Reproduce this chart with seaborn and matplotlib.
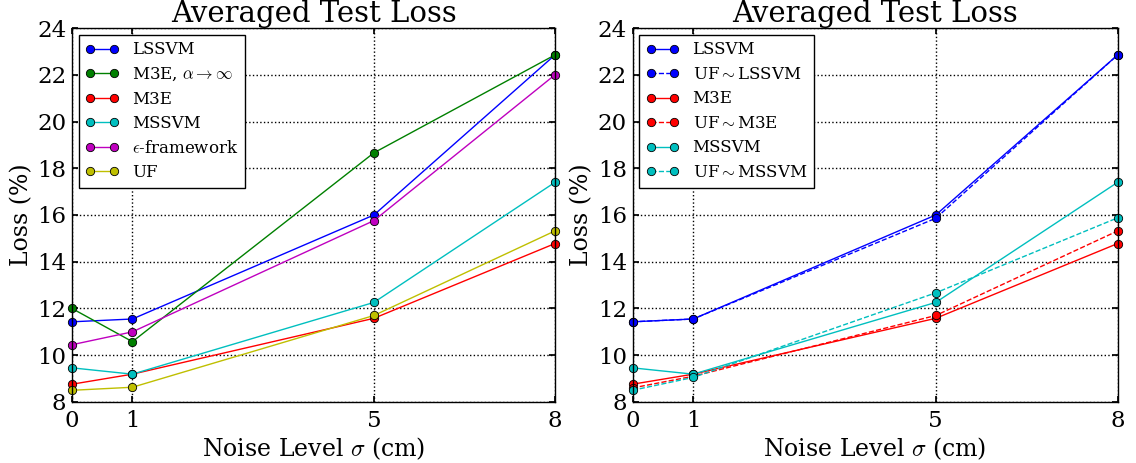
import matplotlib
matplotlib.use("Agg")
import matplotlib.pyplot as plt
import seaborn as sns
import pandas as pd

# Noise levels (cm)
sigma = [0, 1, 5, 8]
x_ticks = [0, 1, 5, 8]
y_ticks = [8, 10, 12, 14, 16, 18, 20, 22, 24]

# Left panel: averaged test loss (%) per method
lssvm = [11.43, 11.55, 16.0, 22.85]
m3e_inf = [12.0, 10.58, 18.66, 22.85]
m3e = [8.76, 9.19, 11.58, 14.78]
mssvm = [9.46, 9.19, 12.26, 17.4]
eps_fw = [10.45, 11.0, 15.76, 22.0]
uf = [8.5, 8.63, 11.7, 15.32]

# Right panel: UF built on top of each base method
uf_lssvm = [11.43, 11.55, 15.86, 22.85]
uf_m3e = [8.6, 9.1, 11.7, 15.32]
uf_mssvm = [8.5, 9.05, 12.67, 15.88]

C_B = (0.0, 0.0, 1.0)
C_G = (0.0, 0.5, 0.0)
C_R = (1.0, 0.0, 0.0)
C_C = (0.0, 0.75, 0.75)
C_M = (0.75, 0.0, 0.75)
C_Y = (0.75, 0.75, 0.0)

sns.set_theme(style="white")
plt.rcParams.update({
    "font.family": ["DejaVu Serif"],
    "mathtext.fontset": "cm",
    "axes.edgecolor": "black",
    "axes.linewidth": 1.0,
    "xtick.direction": "in",
    "ytick.direction": "in",
    "xtick.top": True,
    "ytick.right": True,
    "xtick.bottom": True,
    "ytick.left": True,
    "xtick.major.size": 4,
    "ytick.major.size": 4,
    "xtick.color": "black",
    "ytick.color": "black",
    "text.color": "black",
    "axes.labelcolor": "black",
})

fig = plt.figure(figsize=(11.36, 4.63), dpi=100)
ax1 = fig.add_axes([0.0634, 0.1318, 0.4252, 0.8077])
ax2 = fig.add_axes([0.5568, 0.1318, 0.4271, 0.8077])

left_series = [
    (lssvm, C_B, "LSSVM"),
    (m3e_inf, C_G, r"M3E, $\alpha \rightarrow \infty$"),
    (m3e, C_R, "M3E"),
    (mssvm, C_C, "MSSVM"),
    (eps_fw, C_M, r"$\epsilon$-framework"),
    (uf, C_Y, "UF"),
]
right_series = [
    (lssvm, C_B, "-", "LSSVM"),
    (uf_lssvm, C_B, "--", r"UF$\sim$LSSVM"),
    (m3e, C_R, "-", "M3E"),
    (uf_m3e, C_R, "--", r"UF$\sim$M3E"),
    (mssvm, C_C, "-", "MSSVM"),
    (uf_mssvm, C_C, "--", r"UF$\sim$MSSVM"),
]

line_kw = dict(marker="o", markersize=6, markeredgecolor="black",
               markeredgewidth=0.6, linewidth=1.0, clip_on=False)

for vals, col, lab in left_series:
    df = pd.DataFrame({"sigma": sigma, "loss": vals})
    sns.lineplot(data=df, x="sigma", y="loss", color=col, label=lab,
                 ax=ax1, **line_kw)

for vals, col, ls, lab in right_series:
    df = pd.DataFrame({"sigma": sigma, "loss": vals})
    sns.lineplot(data=df, x="sigma", y="loss", color=col, linestyle=ls,
                 label=lab, ax=ax2, **line_kw)

for ax in (ax1, ax2):
    ax.set_xlim(0, 8)
    ax.set_ylim(8, 24)
    ax.set_xticks(x_ticks)
    ax.set_yticks(y_ticks)
    ax.tick_params(labelsize=16.5, pad=6)
    ax.tick_params(axis="y", pad=4)
    ax.grid(True, color="black", linestyle=":", linewidth=1.0)
    ax.set_axisbelow(True)
    ax.set_title("Averaged Test Loss", fontsize=21, pad=2)
    ax.set_xlabel(r"Noise Level $\sigma$ (cm)", fontsize=17, labelpad=2)
    ax.set_ylabel("Loss (%)", fontsize=17, labelpad=3)
    for sp in ax.spines.values():
        sp.set_visible(True)
        sp.set_color("black")
    leg = ax.legend(loc="upper left", numpoints=2, fontsize=12,
                    frameon=True, fancybox=False, framealpha=1.0,
                    edgecolor="black", borderpad=0.4, labelspacing=0.45,
                    handlelength=2.0, handletextpad=0.8,
                    borderaxespad=0.4)
    leg.get_frame().set_linewidth(1.0)

fig.savefig("out.png", dpi=100)
